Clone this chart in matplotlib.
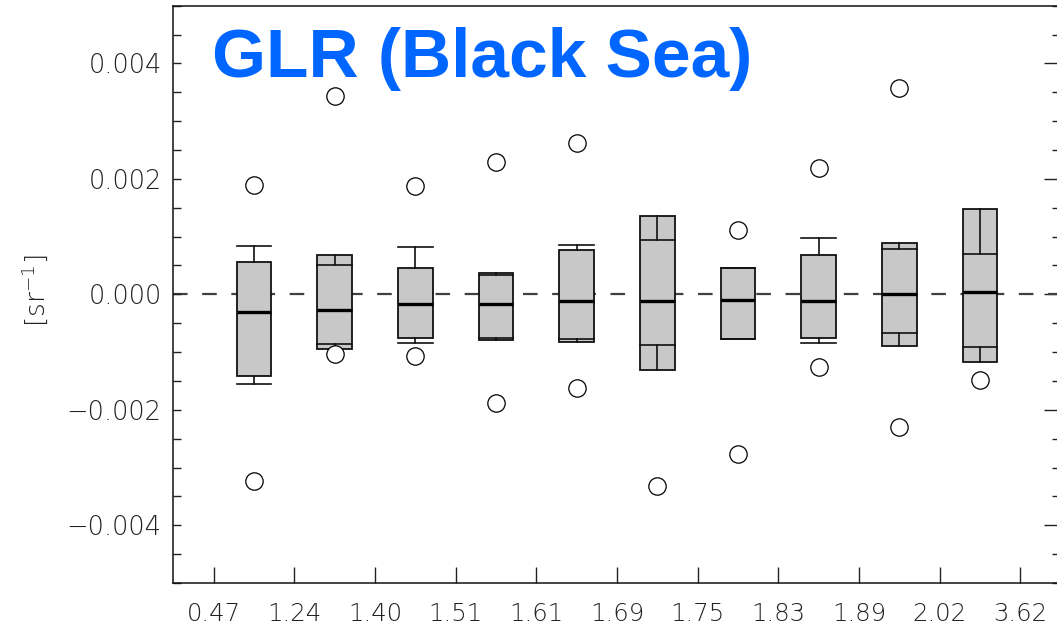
import matplotlib
matplotlib.use("Agg")
import matplotlib.pyplot as plt
from matplotlib.ticker import MultipleLocator, FixedLocator

plt.rcParams['lines.scale_dashes'] = False
plt.rcParams['font.family'] = ['DejaVu Sans']
plt.rcParams['font.weight'] = 200

# ---- data ----
tick_labels = ["0.47", "1.24", "1.40", "1.51", "1.61", "1.69", "1.75", "1.83", "1.89", "2.02", "3.62"]
whislo = [-0.00155, -0.000854, -0.000848, -0.00075, -0.000779, -0.000871, -0.000774, -0.000843, -0.00067, -0.000918]
q1     = [-0.00141, -0.000947, -0.00075, -0.000785, -0.000819, -0.00131, -0.000774, -0.000762, -0.000888, -0.00117]
med    = [-0.00030, -0.000265, -0.000161, -0.000168, -0.000121, -0.000121, -0.000092, -0.000116, 0.000012, 0.000047]
q3     = [0.000566, 0.000683, 0.000462, 0.000369, 0.000767, 0.00135, 0.000455, 0.000675, 0.000892, 0.00148]
whishi = [0.00083, 0.000507, 0.000814, 0.000329, 0.000854, 0.000935, 0.000455, 0.00097, 0.000793, 0.000693]
fliers = [[0.0019, -0.00324], [0.00343, -0.00104], [0.00187, -0.00107], [0.00229, -0.00189],
          [0.00263, -0.00163], [-0.00332], [0.00111, -0.00277], [0.00218, -0.00125],
          [0.00357, -0.0023], [-0.00149]]
title = "GLR (Black Sea)"
ylabel = "[sr$^{-1}$]"

W, H = 1057, 631
fig = plt.figure(figsize=(W / 100, H / 100), dpi=100)
ax_left, ax_right_px = 173.4, 1060.6
ax_top, ax_bot = 5.7, 583.0
ax = fig.add_axes([ax_left / W, (H - ax_bot) / H, (ax_right_px - ax_left) / W, (ax_bot - ax_top) / H])

n = len(med)
positions = [i + 0.5 for i in range(n)]
stats = []
for i in range(n):
    stats.append(dict(med=med[i], q1=q1[i], q3=q3[i], whislo=whislo[i], whishi=whishi[i], fliers=fliers[i]))

ax.set_xlim(-0.5, 10.5)
ax.set_ylim(-0.005, 0.005)

ax.axhline(0, color='#404040', lw=1.6, dashes=(10.5, 10.5), zorder=1)

ax.bxp(stats, positions=positions, widths=0.43, capwidths=0.43, patch_artist=True,
       manage_ticks=False, zorder=2,
       boxprops=dict(facecolor='#c8c8c8', edgecolor='#111111', linewidth=1.3),
       whiskerprops=dict(color='#111111', linewidth=1.2),
       capprops=dict(color='#111111', linewidth=1.2),
       medianprops=dict(color='black', linewidth=2.4),
       flierprops=dict(marker='o', markersize=12.5, markerfacecolor='white',
                       markeredgecolor='black', markeredgewidth=0.9, linestyle='none'))

# ticks
ax.xaxis.set_major_locator(FixedLocator(list(range(len(tick_labels)))))
ax.set_xticklabels(tick_labels)
ax.yaxis.set_major_locator(MultipleLocator(0.002))
ax.yaxis.set_minor_locator(MultipleLocator(0.0005))
ax.yaxis.set_major_formatter(matplotlib.ticker.FuncFormatter(
    lambda v, p: ("\u2212" if v < -1e-12 else "") + "%.3f" % abs(v)))
ax.tick_params(axis='x', which='major', direction='in', length=11.5, width=1.0,
               color='#222222', labelsize=17.5, labelcolor='#222222', pad=14, top=False)
ax.tick_params(axis='y', which='both', direction='in', length=5.5, width=1.0,
               color='#222222', right=False)
ax.tick_params(axis='y', which='major', labelsize=18.5, labelcolor='#222222', pad=8.4)

sec = ax.secondary_yaxis('right')
sec.yaxis.set_major_locator(MultipleLocator(0.002))
sec.yaxis.set_minor_locator(MultipleLocator(0.0005))
sec.tick_params(which='major', direction='in', length=12, width=1.0, color='#222222', labelright=False)
sec.tick_params(which='minor', direction='in', length=6.5, width=1.0, color='#222222')
sec.spines['right'].set_linewidth(1.1)

for s in ax.spines.values():
    s.set_linewidth(1.1)
    s.set_color('#111111')

fig.text(35 / W, 1 - 291 / H, ylabel, rotation=90, ha='center', va='center',
         fontsize=19, color='#222222')

fig.text(212 / W, 1 - 76.7 / H, title, fontsize=50, fontweight='bold',
         family='Liberation Sans', color='#0066ff', va='baseline', ha='left')

fig.savefig("out.png", dpi=100)
